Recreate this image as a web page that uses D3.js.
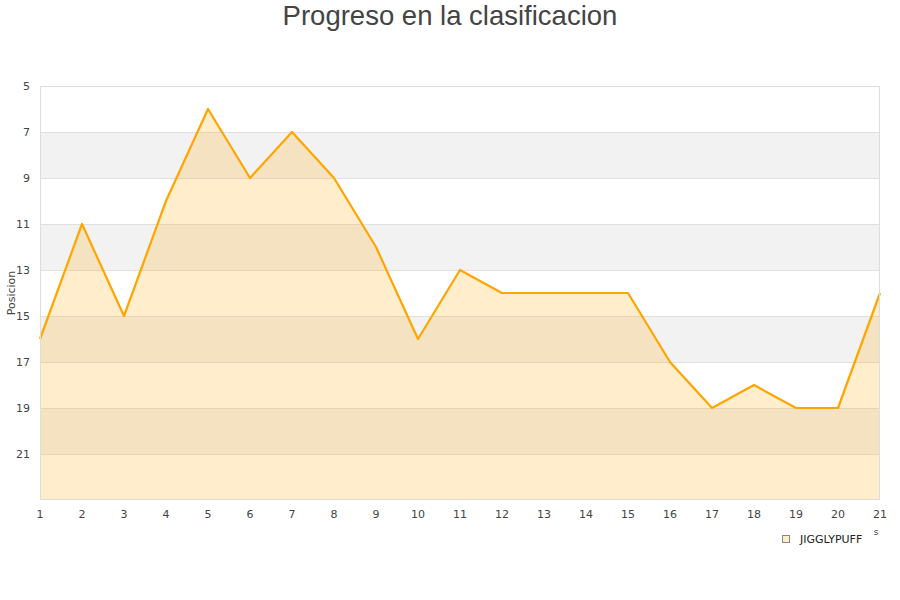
<!DOCTYPE html>
<html><head><meta charset="utf-8">
<script src="https://cdn.jsdelivr.net/npm/d3@7"></script>
<style>body{margin:0;background:#fff}svg{display:block}</style>
</head><body>
<script>
const jornadas = [1,2,3,4,5,6,7,8,9,10,11,12,13,14,15,16,17,18,19,20,21];
const posiciones = [16,11,15,10,6,9,7,9,12,16,13,14,14,14,14,17,19,18,19,19,14];
const yTicks = [5,7,9,11,13,15,17,19,21];
const seriesName = "JIGGLYPUFF";
const title = "Progreso en la clasificacion";
const yTitle = "Posicion";

const W = 900, H = 600;
const m = {l:40, r:20, t:86, b:100};
const svg = d3.select("body").append("svg").attr("width", W).attr("height", H);
const x = d3.scaleLinear().domain([1,21]).range([m.l, W - m.r]);
const y = d3.scaleLinear().domain([5,23]).range([m.t, H - m.b]);

// bands
const bands = [7,11,15,19];
svg.selectAll("rect.band").data(bands).enter().append("rect")
  .attr("x", m.l).attr("width", W - m.r - m.l)
  .attr("y", d => y(d)).attr("height", d => y(d+2) - y(d))
  .attr("fill", "#f2f2f2");
// grid
svg.selectAll("line.grid").data(yTicks).enter().append("line")
  .attr("x1", m.l).attr("x2", W - m.r)
  .attr("y1", d => y(d)+0.5).attr("y2", d => y(d)+0.5)
  .attr("stroke", "#e0e0e0");

// area
const area = d3.area().x((d,i) => x(jornadas[i])).y0(y(23)).y1(d => y(d));
svg.append("path").datum(posiciones).attr("d", area)
  .attr("fill", "#ffa500").attr("fill-opacity", 0.2);
const line = d3.line().x((d,i) => x(jornadas[i])).y(d => y(d));
svg.append("path").datum(posiciones).attr("d", line)
  .attr("fill", "none").attr("stroke", "#ffa500").attr("stroke-width", 2.2)
  .attr("stroke-linejoin", "round");

// frame
svg.append("rect").attr("x", m.l+0.5).attr("y", m.t+0.5)
  .attr("width", W - m.r - m.l - 1).attr("height", H - m.b - m.t - 1)
  .attr("fill", "none").attr("stroke", "#ddd");

// y axis labels
svg.selectAll("text.yt").data(yTicks).enter().append("text")
  .attr("x", 30).attr("y", d => y(d)).attr("dy", "0.35em")
  .attr("text-anchor", "end")
  .attr("font-family", "DejaVu Sans, sans-serif").attr("font-size", 11)
  .attr("fill", "#444").text(d => d);
// x axis labels
svg.selectAll("text.xt").data(jornadas).enter().append("text")
  .attr("x", d => x(d)).attr("y", 518)
  .attr("text-anchor", "middle")
  .attr("font-family", "DejaVu Sans, sans-serif").attr("font-size", 11)
  .attr("fill", "#444").text(d => d);

// y title
svg.append("text").attr("transform", "translate(15,293) rotate(-90)")
  .attr("text-anchor", "middle")
  .attr("font-family", "DejaVu Sans, sans-serif").attr("font-size", 11)
  .attr("fill", "#444").text(yTitle);

// clipped x title remnant
svg.append("text").attr("x", 876).attr("y", 535).attr("text-anchor", "middle")
  .attr("font-family", "DejaVu Sans, sans-serif").attr("font-size", 9)
  .attr("fill", "#444").text("s");

// title
svg.append("text").attr("x", 450).attr("y", 25).attr("text-anchor", "middle")
  .attr("font-family", "Liberation Sans, Arial, sans-serif").attr("font-size", 27.5)
  .attr("fill", "#444").text(title);

// legend
svg.append("rect").attr("x", 782.5).attr("y", 535.5).attr("width", 7).attr("height", 7)
  .attr("fill", "#ffecc8").attr("stroke", "#888");
svg.append("text").attr("x", 800).attr("y", 539).attr("dy", "0.35em")
  .attr("font-family", "DejaVu Sans, sans-serif").attr("font-size", 11)
  .attr("fill", "#222").text(seriesName);
</script>
</body></html>
